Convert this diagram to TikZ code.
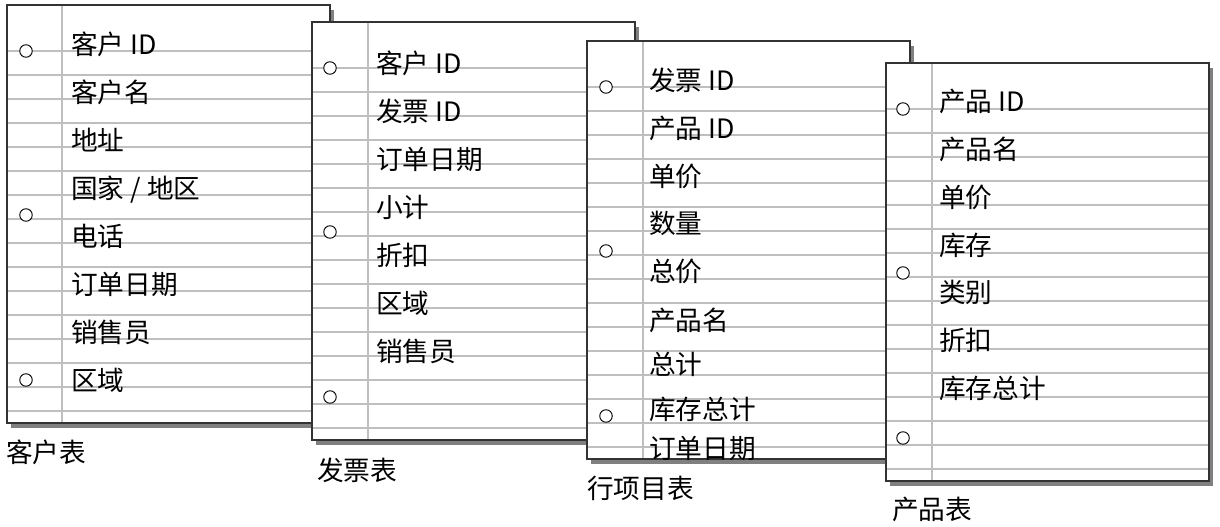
\documentclass[tikz,border=0pt]{standalone}
\usepackage{fontspec}
\setmainfont{Noto Sans CJK SC}

\begin{document}
\begin{tikzpicture}[x=0.75pt,y=-0.75pt,
	shadow/.style={fill=black!50},
	page/.style={draw=black!80,line width=0.8pt},
	rule/.style={draw=black!25,line width=1.1pt},
	hole/.style={draw=black,fill=white,line width=0.7pt},
	field/.style={anchor=west,inner sep=0pt,text height=1.04em,text depth=0pt,yshift=-3pt,
		font=\fontsize{20}{22}\selectfont}]
	\useasboundingbox (0,0) rectangle (1220,527);
	% four ruled sheets, left to right
	\foreach \l/\t/\m/\h in {7/5/55/19, 312/22/56/18, 587/41/56/19, 886/63/46/17}{
		\fill[shadow] (\l+4,\t+5) rectangle (\l+327,\t+423);
		\fill[white] (\l,\t) rectangle (\l+323,\t+418);
		\foreach \k in {0,...,15}
			\draw[rule] (\l,\t+46+24*\k) -- (\l+323,\t+46+24*\k);
		\draw[rule] (\l+\m,\t) -- (\l+\m,\t+418);
		\draw[page] (\l,\t) rectangle (\l+323,\t+418);
		\foreach \y in {46,210,375}
			\draw[hole] (\l+\h,\t+\y) circle[radius=4.7pt];
	}
	\foreach \txt [count=\i] in {客户 ID, 客户名, 地址, 国家 / 地区, 电话, 订单日期, 销售员, 区域}
		\node[field] (cust\i) at (71,{44+48*(\i-1)}) {\txt};
	\foreach \txt [count=\i] in {客户 ID, 发票 ID, 订单日期, 小计, 折扣, 区域, 销售员}
		\node[field] (inv\i) at (376,{63+48*(\i-1)}) {\txt};
	\foreach \y/\txt [count=\i] in {80/发票 ID, 128/产品 ID, 176/单价, 223/数量, 271/总价,
			320/产品名, 364/总计, 409/库存总计, 448/订单日期}
		\node[field] (item\i) at (649,\y) {\txt};
	\foreach \txt [count=\i] in {产品 ID, 产品名, 单价, 库存, 类别, 折扣, 库存总计}
		\node[field] (prod\i) at (939,{101+47.7*(\i-1)}) {\txt};
	% table names
	\node[field] (custname) at (6,452) {客户表};
	\node[field] (invname) at (317,470) {发票表};
	\node[field] (itemname) at (587,488) {行项目表};
	\node[field] (prodname) at (892,509) {产品表};
\end{tikzpicture}
\end{document}
